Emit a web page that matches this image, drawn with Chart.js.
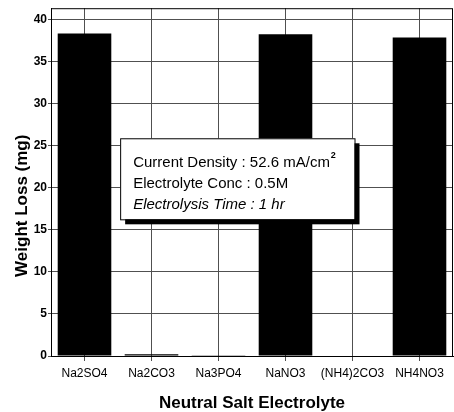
<!DOCTYPE html>
<html>
<head>
<meta charset="utf-8">
<script src="https://cdn.jsdelivr.net/npm/chart.js@4"></script>
<style>
  html, body { margin: 0; padding: 0; background: #fff; }
  #wrap { width: 454px; height: 412px; position: relative; }
</style>
</head>
<body>
<div id="wrap"><canvas id="chart"></canvas></div>
<script>
// data
const salts = ["Na2SO4", "Na2CO3", "Na3PO4", "NaNO3", "(NH4)2CO3", "NH4NO3"];
const weightLoss = [38.4, 0.2, 0.1, 38.3, 0.05, 37.9];
const yTicks = [0, 5, 10, 15, 20, 25, 30, 35, 40];
const yTitle = "Weight Loss (mg)";
const noteLines = ["Current Density : 52.6 mA/cm", "Electrolyte Conc : 0.5M", "Electrolysis Time : 1 hr"];

const FONT = "'Liberation Sans', Arial, sans-serif";

/* frame, y title, condition box */
const extras = {
    id: "extras",
    afterDraw(chart){
        const ctx = chart.ctx;
        const a = chart.chartArea;
        const w = a.right - a.left, h = a.bottom - a.top;
        ctx.save();
        // frame
        ctx.strokeStyle = "#000";
        ctx.lineWidth = 1;
        ctx.strokeRect(a.left + 0.5, a.top + 0.5, w - 1, h);

        // y title (sits a bit below the middle in the original)
        ctx.save();
        ctx.translate(22, a.top + h * 0.568);
        ctx.rotate(-Math.PI / 2);
        ctx.font = "bold 17px " + FONT;
        ctx.fillStyle = "#000";
        ctx.textAlign = "center";
        ctx.textBaseline = "middle";
        ctx.fillText(yTitle, 0, 0);
        ctx.restore();

        // note box with shadow
        const bx = a.left + w * 0.172, by = a.top + h * 0.374;
        const bw = w * 0.583, bh = h * 0.233;
        ctx.fillStyle = "#000";
        ctx.fillRect(bx + 5, by + 5, bw, bh);
        ctx.fillStyle = "#fff";
        ctx.fillRect(bx, by, bw, bh);
        ctx.strokeStyle = "#000";
        ctx.strokeRect(bx + 0.5, by + 0.5, bw, bh);

        ctx.fillStyle = "#000";
        ctx.textBaseline = "alphabetic";
        ctx.textAlign = "left";
        const tx = bx + 13;
        ctx.font = "15px " + FONT;
        ctx.fillText(noteLines[0], tx, by + 29);
        const m = ctx.measureText(noteLines[0]).width;
        ctx.font = "bold 9px " + FONT;
        ctx.fillText("2", tx + m + 1, by + 20);
        ctx.font = "15px " + FONT;
        ctx.fillText(noteLines[1], tx, by + 50);
        ctx.font = "italic 15px " + FONT;
        ctx.fillText(noteLines[2], tx, by + 71);
        ctx.restore();
    }
};

new Chart(document.getElementById("chart"), {
    type: "bar",
    data: {
        labels: salts,
        datasets: [{
            data: weightLoss,
            backgroundColor: "#000",
            borderWidth: 0,
            barPercentage: 0.8,
            categoryPercentage: 1.0
        }]
    },
    options: {
        responsive: true,
        maintainAspectRatio: false,
        animation: false,
        layout: { padding: { top: 8, right: 1, left: 0, bottom: 0 } },
        plugins: {
            legend: { display: false },
            tooltip: { enabled: false }
        },
        scales: {
            x: {
                grid: { color: "#505050", lineWidth: 1, offset: false, tickLength: 5, drawTicks: true },
                border: { color: "#000", width: 1 },
                ticks: { color: "#000", font: { family: FONT, size: 12 }, padding: 5, maxRotation: 0 },
                title: {
                    display: true,
                    text: "Neutral Salt Electrolyte",
                    color: "#000",
                    font: { family: FONT, size: 17, weight: "bold", lineHeight: 1.0 },
                    padding: { top: 4, bottom: 0 }
                },
                afterFit(s){ s.height = 56; }
            },
            y: {
                min: 0,
                max: 41.4,
                afterBuildTicks(s){ s.ticks = yTicks.map(v => ({ value: v })); },
                grid: { color: "#505050", lineWidth: 1, tickLength: 3 },
                border: { color: "#000", width: 1 },
                ticks: { color: "#000", font: { family: FONT, size: 12, weight: "bold" }, padding: 1 },
                title: { display: false },
                afterFit(s){ s.width = 51; }
            }
        }
    },
    plugins: [extras]
});
</script>
</body>
</html>
